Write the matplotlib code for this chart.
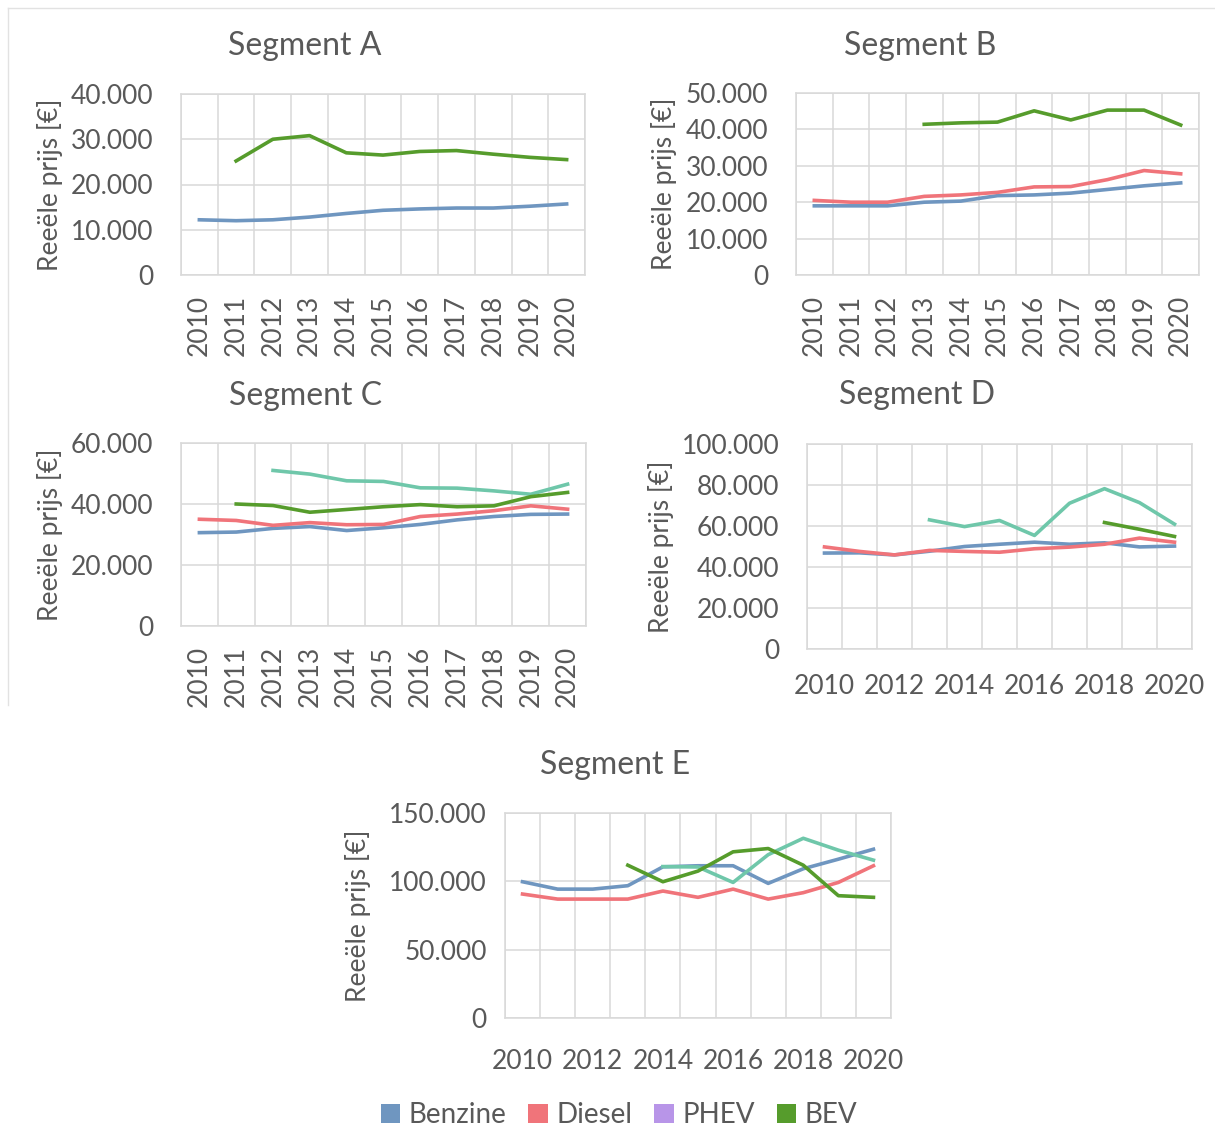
import numpy as np
import matplotlib
matplotlib.use('Agg')
import matplotlib.pyplot as plt
from matplotlib.patches import Patch
from matplotlib.lines import Line2D

plt.rcParams['font.family'] = ['Lato', 'DejaVu Sans']

# Data
years = ['2010', '2011', '2012', '2013', '2014', '2015', '2016', '2017', '2018', '2019', '2020']

a_benzine = [12200, 12000, 12200, 12800, 13600, 14300, 14600, 14800, 14800, 15200, 15700]
a_bev = [None, 25200, 30000, 30800, 27000, 26500, 27300, 27500, 26700, 26000, 25500]

b_benzine = [19000, 19000, 19000, 20000, 20300, 21800, 22000, 22500, 23500, 24500, 25300]
b_diesel = [20500, 20000, 20000, 21600, 22000, 22700, 24200, 24300, 26200, 28700, 27800]
b_bev = [None, None, None, 41400, 41800, 42000, 45100, 42600, 45300, 45300, 41200]

c_benzine = [30600, 30800, 32000, 32600, 31300, 32200, 33300, 34800, 35900, 36600, 36700]
c_diesel = [35000, 34600, 33000, 33900, 33200, 33300, 35900, 36700, 37800, 39400, 38300]
c_phev = [None, None, 51000, 49800, 47600, 47400, 45300, 45200, 44300, 43200, 46500]
c_bev = [None, 40000, 39500, 37300, 38200, 39100, 39800, 39100, 39400, 42400, 43800]

d_benzine = [46800, 46900, 45900, 47700, 50000, 51100, 52100, 51100, 51800, 49800, 50200]
d_diesel = [49800, 47600, 45900, 48100, 47600, 47200, 48900, 49700, 51100, 54100, 52100]
d_phev = [None, None, None, 63000, 59700, 62700, 55400, 71100, 78200, 71400, 60900]
d_bev = [None, None, None, None, None, None, None, None, 61700, 58400, 54900]

e_benzine = [99700, 94300, 94300, 96800, 110600, 111400, 111400, 98500, 109200, 116200, 123500]
e_diesel = [90700, 87000, 87000, 87000, 92900, 88300, 94300, 87000, 91700, 99200, 111400]
e_phev = [None, None, None, None, 110800, 110500, 99200, 119500, 131500, 122800, 115500]
e_bev = [None, None, None, 111800, 99700, 107500, 121600, 124000, 111800, 89500, 88300]

legend_labels = ['Benzine', 'Diesel', 'PHEV', 'BEV']

# Styling
BENZ = '#6f96c0'
DIES = '#f0747a'
PHEV_LINE = '#6fc7aa'
PHEV_KEY = '#b895e8'
BEV = '#569c2c'
GRID = '#d9d9d9'
TXT = '#595959'

W, H = 1215, 1142
fig = plt.figure(figsize=(W / 100, H / 100), dpi=100)


def px_rect(l, t, r, b):
    return [l / W, 1 - b / H, (r - l) / W, (b - t) / H]


def fmt(v):
    return f"{int(v):,}".replace(',', '.')


def segment(rect, title, title_xy, ylab_x, series, ymax, ystep,
            every=1, rotate=True, xpad=14, ypad=20):
    ax = fig.add_axes(px_rect(*rect))
    x = np.arange(len(years))
    for vals, color in series:
        ax.plot(x, np.array(vals, dtype=float), color=color, lw=2.6,
                solid_joinstyle='round')
    ax.set_xlim(-0.5, len(years) - 0.5)
    ax.set_ylim(0, ymax)
    yt = np.arange(0, ymax + 1, ystep)
    ax.set_yticks(yt)
    ax.set_yticklabels([fmt(v) for v in yt])
    ax.set_xticks(x[::every])
    ax.set_xticklabels(years[::every], rotation=90 if rotate else 0)
    ax.set_xticks(np.arange(len(years) + 1) - 0.5, minor=True)
    ax.grid(which='minor', axis='x', color=GRID, lw=1.1)
    ax.grid(which='major', axis='y', color=GRID, lw=1.1)
    ax.set_axisbelow(True)
    ax.tick_params(which='both', length=0, labelsize=19, colors=TXT)
    ax.tick_params(axis='x', pad=xpad)
    ax.tick_params(axis='y', pad=ypad)
    for s in ax.spines.values():
        s.set_color(GRID)
        s.set_linewidth(1.1)
    fig.text(title_xy[0] / W, 1 - title_xy[1] / H, title, ha='center',
             va='center', fontsize=23, color=TXT)
    fig.text(ylab_x / W, 1 - (rect[1] + rect[3]) / 2 / H, 'Reeële prijs [€]',
             rotation=90, ha='center', va='center', fontsize=19, color=TXT)
    return ax


segment((181, 94, 585, 275), 'Segment A', (305, 46), 50,
        [(a_benzine, BENZ), (a_bev, BEV)], 40000, 10000)
segment((796, 93, 1199, 275), 'Segment B', (920, 46), 664,
        [(b_benzine, BENZ), (b_diesel, DIES), (b_bev, BEV)], 50000, 10000)
segment((181, 443, 586, 626), 'Segment C', (306, 396), 50,
        [(c_benzine, BENZ), (c_diesel, DIES), (c_phev, PHEV_LINE), (c_bev, BEV)],
        60000, 20000)
segment((807, 444, 1192, 649), 'Segment D', (917, 395), 661,
        [(d_benzine, BENZ), (d_diesel, DIES), (d_phev, PHEV_LINE), (d_bev, BEV)],
        100000, 20000, every=2, rotate=False, xpad=18)
segment((505, 813, 891, 1018), 'Segment E', (615, 765), 358,
        [(e_benzine, BENZ), (e_diesel, DIES), (e_phev, PHEV_LINE), (e_bev, BEV)],
        150000, 50000, every=2, rotate=False, xpad=22, ypad=13)

# legend
handles = [Patch(facecolor=c, edgecolor='none') for c in (BENZ, DIES, PHEV_KEY, BEV)]
fig.legend(handles, legend_labels, loc='center', bbox_to_anchor=(619 / W, 1 - 1115 / H),
           ncol=4, frameon=False, fontsize=20, handlelength=0.7, handleheight=0.7,
           handletextpad=0.3, columnspacing=0.8, labelcolor=TXT)

# faint frame of the original screenshot
fig.add_artist(Line2D([8 / W, 1], [1 - 8 / H, 1 - 8 / H], color='#e2e2e2', lw=1))
fig.add_artist(Line2D([8 / W, 8 / W], [1 - 8 / H, 1 - 705 / H], color='#e2e2e2', lw=1))

fig.savefig('out.png', dpi=100)
